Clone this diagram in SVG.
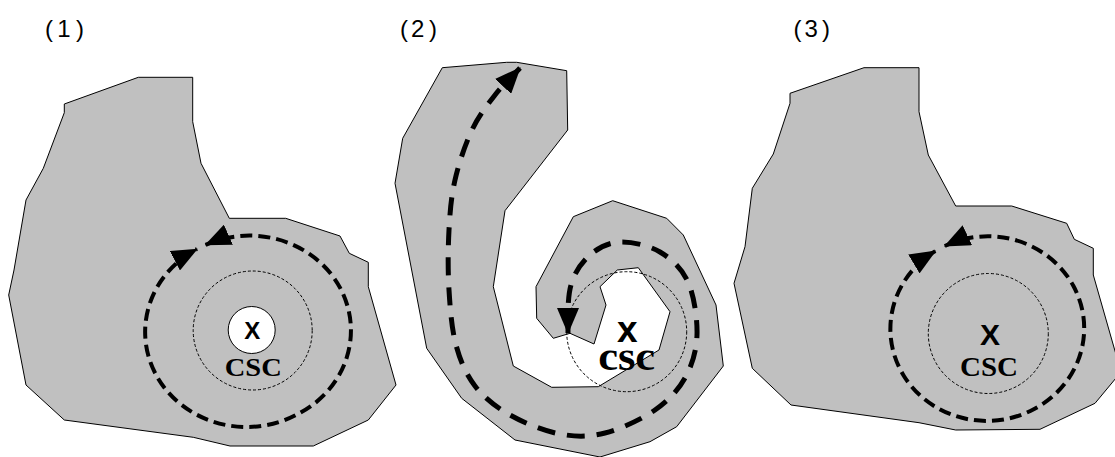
<svg xmlns="http://www.w3.org/2000/svg" width="1115" height="457" viewBox="0 0 1115 457">
<style>
.region{fill:#c0c0c0;stroke:#000;stroke-width:1;stroke-linejoin:miter}
.dot{fill:none;stroke:#000;stroke-width:1;stroke-dasharray:3 2}
.wave{fill:none;stroke:#000;stroke-width:4;stroke-dasharray:12 6;marker-start:url(#ah);marker-end:url(#ah)}
.wave2{fill:none;stroke:#000;stroke-width:5;stroke-dasharray:18 12;marker-start:url(#ah);marker-end:url(#ah)}
.lbl{font-family:"Liberation Sans",Arial,sans-serif;font-size:24px;fill:#000}
.x{font-family:"Liberation Sans",Arial,sans-serif;font-weight:bold;fill:#000;text-anchor:middle}
.csc{font-family:"Liberation Serif","Times New Roman",serif;font-weight:bold;fill:#000;text-anchor:middle}
</style>
<defs>
<marker id="ah" viewBox="0 0 26 22" markerUnits="userSpaceOnUse" markerWidth="26" markerHeight="22" refX="25" refY="11" orient="auto-start-reverse">
<path d="M0,0 L26,11 L0,22 z" fill="#000"/>
</marker>
</defs>
<rect width="1115" height="457" fill="#fff"/>

<g id="label1"><text class="lbl" x="45 57.2 76" y="37">(1)</text></g>
<g id="label2"><text class="lbl" x="400 411 429" y="37">(2)</text></g>
<g id="label3"><text class="lbl" x="793.5 804.5 822" y="37">(3)</text></g>

<g id="panel1">
<polygon class="region" points="64.3,104 138.3,77.3 192.7,77.3 192.7,121.7 201,163.3 229.3,218.3 285.7,218.3 340,236 349.3,253.3 368.3,262.3 368.3,286.7 396,385 368.3,420 313.3,446 230,446 193.3,437.3 64.3,420 26,385 8.7,295 14,270 26,200 43.3,168.3 64.3,112.7"/>
<circle class="dot" cx="252.7" cy="330.5" r="59.5"/>
<circle cx="251.7" cy="330" r="23.5" fill="#fff" stroke="#000" stroke-width="1"/>
<text><tspan class="x" x="252.3" y="339" font-size="24">X</tspan><tspan class="csc" x="253.3" y="376" font-size="26" textLength="57" lengthAdjust="spacingAndGlyphs">CSC</tspan></text>
</g>

<g id="panel2">
<polygon class="region" points="442.3,67.7 506.7,62.3 516.7,62.3 566.7,70.7 567.7,130 505,210.7 493.3,286.7 513.3,366 551.7,387.3 598.3,386.7 659,350 670,311.7 638.3,267.7 617.3,270 600,286.7 606,305 594,344 570,333.3 553.3,338.3 536.7,318.3 536,286.7 573.3,216.7 612.7,200.7 666.7,218.3 683.3,235 716,305 723.3,366 676.7,426.7 650,441.7 600,457 515,440 461.7,398.3 426.7,348.3 395,183.3 402.7,138.3"/>
<circle class="dot" cx="626.7" cy="331.7" r="60"/>
<text><tspan class="x" x="627.3" y="341.7" font-size="37">x</tspan><tspan class="csc" x="626.7" y="369.5" font-size="40" textLength="57" lengthAdjust="spacingAndGlyphs">csc</tspan></text>
</g>

<g id="panel3">
<polygon class="region" points="790,93.3 864,67.7 919,67.7 919,111.7 928.3,155 955.7,206 1011.7,206 1066.7,223.3 1074.3,239.3 1093.3,248.3 1093.3,275 1121,372 1095,403.3 1040,429.3 955.7,430 919,422.7 791,405 752.3,368.3 734,283.3 745,246.7 752.3,188.3 773.3,154 790,103.3"/>
<circle class="dot" cx="988.3" cy="333.5" r="60"/>
<text><tspan class="x" x="990" y="345" font-size="30">X</tspan><tspan class="csc" x="989" y="376" font-size="28" textLength="58" lengthAdjust="spacingAndGlyphs">CSC</tspan></text>
</g>

<g id="connectors">
<path id="wave1" class="wave" d="M205.6,244.9 A101.5,95 0 0 1 296.2,414.9 A101.5,95 0 0 1 197,249.1"/>
<path id="wave2" class="wave2" d="M568,333 C568,317 567.3,298 571,285 C574.7,272 581.8,262.2 590,255 C598.2,247.8 608.3,242.5 620,242 C631.7,241.5 648.7,245.3 660,252 C671.3,258.7 681.8,268.2 688,282 C694.2,295.8 697.5,319 697,335 C696.5,351 692,365.5 685,378 C678,390.5 668.3,400.8 655,410 C641.7,419.2 620.8,429 605,433 C589.2,437 575.8,437 560,434 C544.2,431 524.2,423 510,415 C495.8,407 484,397.7 475,386 C466,374.3 460.3,361 456,345 C451.7,329 450.2,309.2 449,290 C447.8,270.8 448,248.3 449,230 C450,211.7 451.2,196.7 455,180 C458.8,163.3 465.3,144.2 472,130 C478.7,115.8 487,105.3 495,95 C503,84.7 511.7,77 520,68"/>
<path id="wave3" class="wave" d="M944.8,246 A96.3,92 0 0 1 1033.7,409.2 A96.3,92 0 0 1 935.3,251.1"/>
</g>
</svg>
